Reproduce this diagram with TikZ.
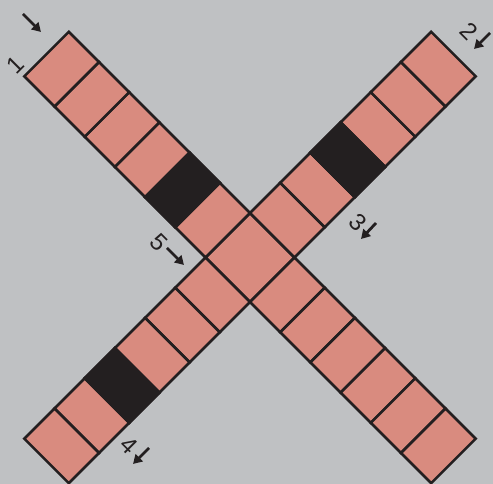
\documentclass[tikz,border=0pt]{standalone}
\usepackage{fontspec}
\setmainfont{Liberation Sans}
\usetikzlibrary{arrows.meta}
\definecolor{bg}{RGB}{191,193,195}
\definecolor{cellpink}{RGB}{217,139,127}
\definecolor{ink}{RGB}{35,31,32}
\begin{document}
\begin{tikzpicture}[x=1pt,y=1pt,
  cellbox/.style={fill=cellpink,draw=ink,line width=2.6pt},
  blackbox/.style={fill=ink,draw=ink,line width=2.6pt},
  lbl/.style={font=\fontsize{24}{24}\selectfont, text=ink, rotate=-45, inner sep=0pt},
  darr/.style={draw=ink, line width=2.8pt, -{Triangle[length=9pt,width=10pt]}}]
\fill[bg] (0,0) rectangle (493,484);
\useasboundingbox (0,0) rectangle (493,484);
\pgfmathsetmacro{\L}{42.7}
\pgfmathsetmacro{\h}{31.5}
\begin{scope}[shift={(250,226.5)}, rotate=-45]
  % centre square
  \draw[cellbox] (-\h,-\h) rectangle (\h,\h);
  \foreach \k in {1,...,6}{
    % strip A (across), left and right of centre
    \draw[cellbox] ({-\h-\k*\L},-\h) rectangle ({-\h-(\k-1)*\L},\h);
    \draw[cellbox] ({\h+(\k-1)*\L},-\h) rectangle ({\h+\k*\L},\h);
    % strip B (down), above and below centre
    \draw[cellbox] (-\h,{\h+(\k-1)*\L}) rectangle (\h,{\h+\k*\L});
    \draw[cellbox] (-\h,{-\h-\k*\L}) rectangle (\h,{-\h-(\k-1)*\L});
  }
  \draw[blackbox] ({-\h-2*\L},-\h) rectangle ({-\h-1*\L},\h);
  \draw[blackbox] (-\h,{\h+2*\L}) rectangle (\h,{\h+3*\L});
  \draw[blackbox] (-\h,{-\h-4*\L}) rectangle (\h,{-\h-3*\L});
\end{scope}
% labels
\node[lbl, rotate=90] (n1) at (15,419) {1};
\coordinate (a1s) at (23,470); \coordinate (a1e) at (41,452);
\draw[darr] (a1s) -- (a1e);
\node[lbl] (n2) at (469,453) {2};
\coordinate (a2s) at (490,451); \coordinate (a2e) at (474,435);
\draw[darr] (a2s) -- (a2e);
\node[lbl] (n3) at (358,262) {3};
\coordinate (a3s) at (376,261); \coordinate (a3e) at (361,245);
\draw[darr] (a3s) -- (a3e);
\node[lbl] (n4) at (129,39) {4};
\coordinate (a4s) at (149,36); \coordinate (a4e) at (133,20);
\draw[darr] (a4s) -- (a4e);
\node[lbl] (n5) at (159,242) {5};
\coordinate (a5s) at (167,236); \coordinate (a5e) at (184,219);
\draw[darr] (a5s) -- (a5e);
\end{tikzpicture}
\end{document}
